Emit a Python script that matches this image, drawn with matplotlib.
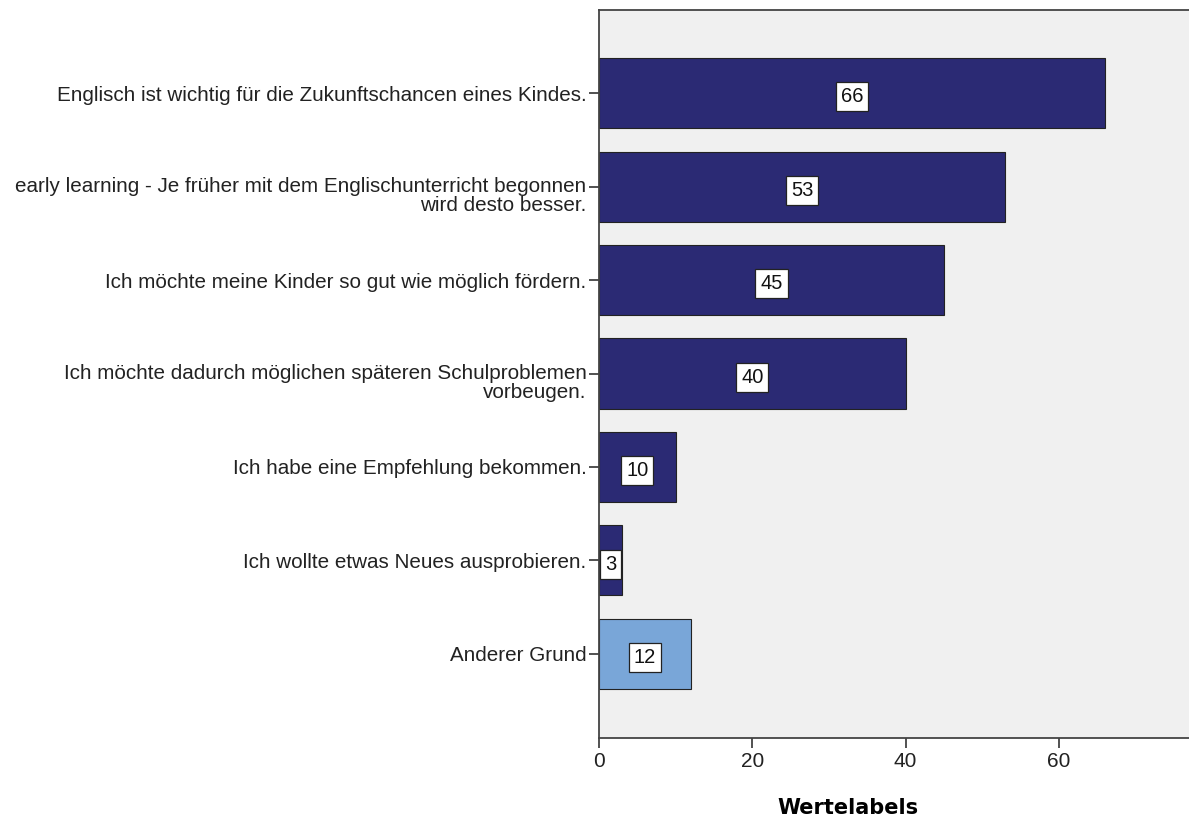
import matplotlib.pyplot as plt
from matplotlib.transforms import ScaledTranslation

plt.rcParams['font.family'] = ['Liberation Sans', 'DejaVu Sans']

categories = [
    'Englisch ist wichtig für die Zukunftschancen eines Kindes.',
    'early learning - Je früher mit dem Englischunterricht begonnen\nwird desto besser.',
    'Ich möchte meine Kinder so gut wie möglich fördern.',
    'Ich möchte dadurch möglichen späteren Schulproblemen\nvorbeugen.',
    'Ich habe eine Empfehlung bekommen.',
    'Ich wollte etwas Neues ausprobieren.',
    'Anderer Grund',
]
values = [66, 53, 45, 40, 10, 3, 12]
colors = ['#2b2a74'] * 6 + ['#79a6d8']

fig = plt.figure(figsize=(11.89, 8.21), dpi=100, facecolor='white')
ax = fig.add_axes([0.5038, 0.1011, 0.4962, 0.8867])
ax.set_facecolor('#f0f0f0')

pos = list(range(len(categories)))
ax.barh(pos, values, height=0.75, color=colors, edgecolor='#222222', linewidth=0.8, zorder=2)

for p, v in zip(pos, values):
    ax.text(v / 2, p + 0.04, str(v), ha='center', va='center', fontsize=14.5, color='#111111',
            bbox=dict(boxstyle='square,pad=0.25', facecolor='white', edgecolor='#222222', linewidth=0.9),
            zorder=3)

ax.set_ylim(6.9, -0.89)
ax.set_xlim(0, 77)
ax.set_yticks(pos)
ax.set_yticklabels(categories, fontsize=14.9, linespacing=1.0, color='#222222')
ax.set_xticks([0, 20, 40, 60])
ax.tick_params(axis='both', direction='out', length=7, width=1.2, colors='#333333', labelcolor='#222222')
ax.tick_params(axis='x', labelsize=15, pad=3)
ax.tick_params(axis='y', pad=2)

# two-line labels: keep the first line near the tick like the original
for lab in ax.get_yticklabels():
    if '\n' in lab.get_text():
        lab.set_transform(lab.get_transform() + ScaledTranslation(0, -0.07, fig.dpi_scale_trans))

for s in ['left', 'bottom', 'top']:
    ax.spines[s].set_color('#444444')
    ax.spines[s].set_linewidth(1.3)
ax.spines['right'].set_visible(False)

ax.set_xlabel('Wertelabels', fontsize=15, fontweight='bold', family=['DejaVu Sans'])
ax.xaxis.set_label_coords(0.422, -0.082)

plt.savefig('out.png', dpi=100, facecolor='white')
